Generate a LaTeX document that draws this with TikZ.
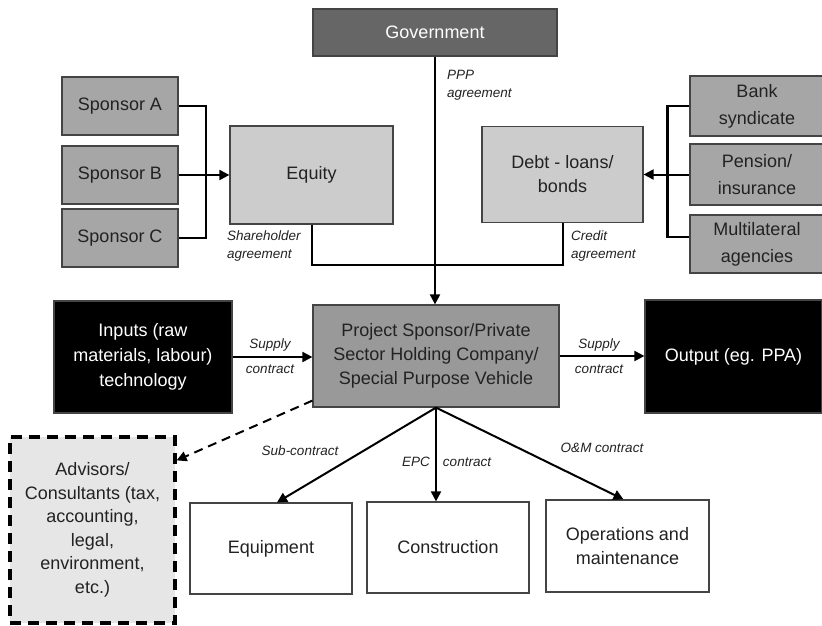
\documentclass[tikz,border=0pt]{standalone}
\usepackage{fontspec}
\setmainfont{Liberation Sans}
\usetikzlibrary{arrows.meta,calc}
\definecolor{govfill}{HTML}{666666}
\definecolor{spfill}{HTML}{A6A6A6}
\definecolor{eqfill}{HTML}{CCCCCC}
\definecolor{spvfill}{HTML}{999999}
\definecolor{advfill}{HTML}{E6E6E6}
\definecolor{boxline}{HTML}{444444}
\definecolor{txt}{HTML}{222222}
\begin{document}
\begin{tikzpicture}[x=1pt,y=-1pt,
  box/.style={draw=boxline,line width=1.2pt,rectangle,align=center,inner sep=0pt,text=txt,font=\fontsize{18}{24}\selectfont},
  conn/.style={line width=2pt,draw=black},
  arr/.style={conn,-{Triangle[length=10pt,width=10pt]}},
  lbl/.style={font=\fontsize{13.5}{18}\selectfont\itshape,text=txt,inner sep=0pt,align=left}]
\useasboundingbox (0,0) rectangle (822,626);
% top
\node[box,fill=govfill,text=white,minimum width=244pt,minimum height=47pt] (gov) at (435,32.5) {Government};
\node[box,fill=spfill,minimum width=116pt,minimum height=58pt] (spa) at (120,106) {Sponsor A};
\node[box,fill=spfill,minimum width=116pt,minimum height=58pt] (spb) at (120,175) {Sponsor B};
\node[box,fill=spfill,minimum width=116pt,minimum height=58pt] (spc) at (120,238) {Sponsor C};
\node[box,fill=eqfill,minimum width=163pt,minimum height=98pt] (eq) at (311.5,175) {Equity};
\node[box,fill=eqfill,minimum width=161pt,minimum height=96pt,font=\fontsize{18}{24}\selectfont] (debt) at (562.5,174.5) {Debt - loans/\\bonds};
\node[box,fill=spfill,minimum width=134pt,minimum height=60pt,font=\fontsize{18}{27}\selectfont] (bank) at (757,106) {Bank\\syndicate};
\node[box,fill=spfill,minimum width=134pt,minimum height=61pt,font=\fontsize{18}{27}\selectfont] (pen) at (757,174.5) {Pension/\\insurance};
\node[box,fill=spfill,minimum width=134pt,minimum height=58pt,font=\fontsize{18}{27}\selectfont] (multi) at (757,244) {Multilateral\\agencies};
% middle
\node[box,fill=black,text=white,minimum width=178pt,minimum height=112pt,font=\fontsize{18}{25}\selectfont] (inp) at (143,357) {Inputs (raw\\materials, labour)\\technology};
\node[box,fill=spvfill,minimum width=246pt,minimum height=102pt] (spv) at (436,356) {Project Sponsor/Private\\Sector Holding Company/\\Special Purpose Vehicle};
\node[box,fill=black,text=white,minimum width=177pt,minimum height=113pt] (out) at (733.5,356.5) {Output (eg. PPA)};
% bottom
\node[box,fill=advfill,draw=black,line width=3.2pt,dash pattern=on 11pt off 7pt,minimum width=165pt,minimum height=186pt,font=\fontsize{18}{23.5}\selectfont] (adv) at (92.5,530) {Advisors/\\Consultants (tax,\\accounting,\\legal,\\environment,\\etc.)};
\node[box,fill=white,minimum width=162pt,minimum height=91pt] (equip) at (271,548.5) {Equipment};
\node[box,fill=white,minimum width=162pt,minimum height=91pt] (cons) at (448,547.5) {Construction};
\node[box,fill=white,minimum width=163pt,minimum height=92pt,font=\fontsize{18}{24}\selectfont] (om) at (627.5,546) {Operations and\\maintenance};
% connectors
\draw[arr] (gov.south) -- (gov.south |- spv.north);
\draw[conn] (spa.east) -- ++(27,0) |- (spc.east);
\draw[arr] (spb.east) -- (eq.west);
\draw[conn,line width=2.4pt] (bank.west) -- ++(-22,0) |- ([yshift=7pt]multi.west);
\draw[arr] (pen.west) -- (debt.east);
\draw[conn] (eq.south) -- ++(0,40) -| (debt.south);
\draw[arr] (inp.east) -- (inp.east -| spv.west);
\draw[arr] (spv.east) -- (spv.east -| out.west);
\draw[arr,dash pattern=on 9pt off 6pt] ([yshift=7pt]spv.south west) -- ([yshift=-25pt]adv.north east);
\draw[arr] (spv.south) -- ([xshift=6pt]equip.north);
\draw[arr] (spv.south) -- (spv.south |- cons.north);
\draw[arr] (spv.south) -- ([xshift=-4pt]om.north);
% labels
\node[lbl,anchor=north west] (lppp) at (447,70) {PPP\\agreement};
\node[lbl,anchor=north west] (lsh) at (227,231) {Shareholder\\agreement};
\node[lbl,anchor=north west] (lcr) at (571,231) {Credit\\agreement};
\node[lbl,align=center,font=\fontsize{13.5}{25}\selectfont\itshape] (lsup1) at (270,356) {Supply\\contract};
\node[lbl,align=center,font=\fontsize{13.5}{25}\selectfont\itshape] (lsup2) at (599,356) {Supply\\contract};
\node[lbl] (lsub) at (300,451) {Sub-contract};
\node[lbl] (lepc) at (416,462) {EPC};
\node[lbl] (lepc2) at (467,462) {contract};
\node[lbl] (lom) at (602,448) {O\&M contract};
\end{tikzpicture}
\end{document}
